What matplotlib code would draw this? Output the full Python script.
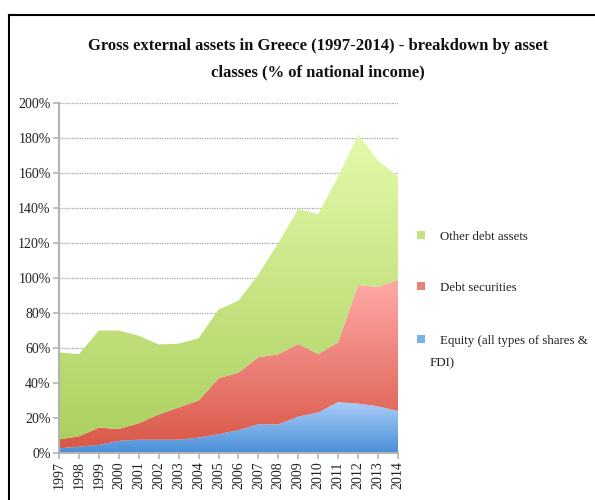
import numpy as np
import matplotlib
matplotlib.use("Agg")
import matplotlib.pyplot as plt
from matplotlib.colors import LinearSegmentedColormap
from matplotlib.patches import Rectangle

plt.rcParams['font.family'] = ['Liberation Serif', 'DejaVu Serif']

years = list(range(1997, 2015))
equity = [2.7, 3.6, 4.6, 6.9, 7.6, 7.6, 7.6, 8.8, 10.7, 13.1, 16.4, 16.4, 20.8, 23.2, 29.1, 28.2, 26.7, 24.0]
debt_securities = [5.1, 5.9, 9.9, 6.8, 9.4, 14.4, 18.4, 21.2, 32.0, 32.8, 38.3, 40.0, 41.5, 33.4, 34.1, 67.8, 68.2, 75.0]
other_debt = [49.7, 47.0, 55.5, 56.3, 50.0, 40.0, 36.5, 35.5, 39.3, 41.1, 47.3, 63.6, 77.2, 79.9, 94.8, 86.0, 72.1, 59.0]
labels = ["Equity (all types of shares &\nFDI)", "Debt securities", "Other debt assets"]
yticks = list(range(0, 201, 20))

# (bottom colour, top colour) for each area
grads = [("#4a8fd8", "#a8ccf8"), ("#d85848", "#ffaaa8"), ("#acd060", "#e4faaa")]
legend_cols = ["#7ab0ea", "#ea8078", "#c4e282"]

fig = plt.figure(figsize=(5.95, 5.0), dpi=100)
ax = fig.add_axes([59/595, 47/500, 339/595, 350/500])

x = np.array(years, dtype=float)
base = np.zeros(len(years))
for vals, (c0, c1) in zip([equity, debt_securities, other_debt], grads):
    top = base + np.array(vals)
    poly = ax.fill_between(x, base, top, color="none", linewidth=0, zorder=2)
    cmap = LinearSegmentedColormap.from_list("g", [c0, c1])
    y0, y1 = base.min(), top.max()
    img = ax.imshow(np.linspace(0, 1, 256).reshape(-1, 1), cmap=cmap, aspect="auto",
                    origin="lower", extent=[x[0], x[-1], y0, y1], zorder=2)
    img.set_clip_path(poly.get_paths()[0], transform=ax.transData)
    base = top

ax.set_xlim(years[0], years[-1])
ax.set_ylim(0, 200)
ax.set_xticks(years)
ax.set_xticklabels([str(y) for y in years], rotation=90, fontsize=10)
ax.set_yticks(yticks)
ax.set_yticklabels([f"{v}%" for v in yticks], fontsize=10)
for v in yticks[1:]:
    ax.axhline(v, color="#a0a0a0", linestyle=(0, (1, 1)), linewidth=0.9, zorder=1)

for s in ["top", "right"]:
    ax.spines[s].set_visible(False)
for s in ["left", "bottom"]:
    ax.spines[s].set_color("#b4b4b4")
    ax.spines[s].set_linewidth(1.5)
    ax.spines[s].set_zorder(3)
ax.tick_params(axis="both", colors="#b4b4b4", length=4, width=1.2, labelcolor="#222222", pad=2)

fig.text(318/595, 1 - 46/500, "Gross external assets in Greece (1997-2014) - breakdown by asset",
         ha="center", va="center", fontsize=12, fontweight="bold", color="#111111")
fig.text(318/595, 1 - 72/500, "classes (% of national income)",
         ha="center", va="center", fontsize=12, fontweight="bold", color="#111111")

# legend
leg_y = [341, 288, 237]
for lab, col, ly in zip(labels, legend_cols, leg_y):
    fig.patches.append(Rectangle((417/595, 1 - (ly + 2)/500), 8/595, 8/500,
                                 transform=fig.transFigure, facecolor=col, edgecolor="none"))
    first, *rest = lab.split("\n")
    fig.text(440/595, 1 - ly/500, first, ha="left", va="center", fontsize=9.3, color="#222222")
    if rest:
        fig.text(430/595, 1 - (ly + 22)/500, rest[0], ha="left", va="center", fontsize=9.3, color="#222222")

# frame lines
fig.add_artist(plt.Line2D([8.5/595, 8.5/595], [0, 1 - 15/500], transform=fig.transFigure, color="black", linewidth=1.5))
fig.add_artist(plt.Line2D([8.5/595, 1], [1 - 15/500, 1 - 15/500], transform=fig.transFigure, color="black", linewidth=1.5))

fig.savefig("out.png", dpi=100)
